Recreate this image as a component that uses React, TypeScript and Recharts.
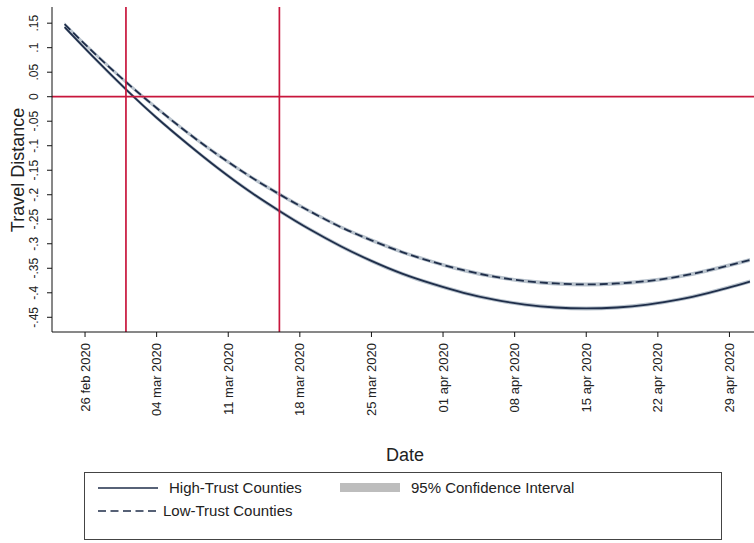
import { ComposedChart, Line, Area, XAxis, YAxis, ReferenceLine } from 'recharts'

// days counted from 26 feb 2020
const days = [-2, 1, 4, 7, 10, 13, 16, 19, 22, 25, 28, 31, 34, 37, 40, 43, 46, 49, 52, 55, 58, 61, 65]
const highTrust = [0.142, 0.077, 0.015, -0.043, -0.096, -0.146, -0.192, -0.233, -0.271, -0.305, -0.335, -0.361, -0.382, -0.400, -0.414, -0.424, -0.430, -0.432, -0.430, -0.424, -0.414, -0.400, -0.377]
const lowTrust = [0.148, 0.087, 0.030, -0.023, -0.073, -0.119, -0.161, -0.199, -0.234, -0.266, -0.293, -0.317, -0.337, -0.354, -0.367, -0.376, -0.381, -0.383, -0.381, -0.376, -0.367, -0.354, -0.333]
const ciHalf = 0.004

const xTicks = [0, 7, 14, 21, 28, 35, 42, 49, 56, 63]
const xTickLabels = ['26 feb 2020', '04 mar 2020', '11 mar 2020', '18 mar 2020', '25 mar 2020', '01 apr 2020', '08 apr 2020', '15 apr 2020', '22 apr 2020', '29 apr 2020']
const yTicks = [0.15, 0.1, 0.05, 0, -0.05, -0.1, -0.15, -0.2, -0.25, -0.3, -0.35, -0.4, -0.45]
const yTickLabels = ['.15', '.1', '.05', '0', '-.05', '-.1', '-.15', '-.2', '-.25', '-.3', '-.35', '-.4', '-.45']
const policyDays = [4, 19] // 01 mar, 16 mar

const FONT = '"Liberation Sans", Arial, Helvetica, sans-serif'
const NAVY = '#1f2e4a'
const RED = '#c8163c'

const data = days.map((d, i) => ({
    day: d,
    high: highTrust[i],
    low: lowTrust[i],
    highCi: [highTrust[i] - ciHalf, highTrust[i] + ciHalf],
    lowCi: [lowTrust[i] - ciHalf, lowTrust[i] + ciHalf],
}))

const XTick = ({ x, y, payload }: any) => (
    <g transform={`translate(${x + 4.5},${y + 4})`}>
        <text transform="rotate(-90)" textAnchor="end" fontSize={13} fontFamily={FONT} fill="#222">
            {xTickLabels[xTicks.indexOf(payload.value)]}
        </text>
    </g>
)

const YTick = ({ x, y, payload }: any) => (
    <g transform={`translate(${x - 7},${y})`}>
        <text transform="rotate(-90)" textAnchor="middle" fontSize={12} fontFamily={FONT} fill="#222">
            {yTickLabels[yTicks.indexOf(payload.value)]}
        </text>
    </g>
)

export default function App() {
    return (
        <div style={{ position: 'absolute', left: 0, top: 0, width: 754, height: 543, background: '#fff', fontFamily: FONT }}>
            <ComposedChart width={754} height={543} data={data} margin={{ top: 7, right: 0, left: 0, bottom: 101 }}>
                <XAxis
                    type="number"
                    dataKey="day"
                    domain={[-3.23, 65.4]}
                    ticks={xTicks}
                    tick={<XTick />}
                    tickSize={5}
                    interval={0}
                    height={110}
                    allowDataOverflow
                    stroke="#111"
                    label={{
                        content: () => (
                            <text x={405} y={461} textAnchor="middle" fontSize={18} fontFamily={FONT} fill="#222">Date</text>
                        ),
                    }}
                />
                <YAxis
                    type="number"
                    domain={[-0.48, 0.183]}
                    ticks={yTicks}
                    tick={<YTick />}
                    tickSize={5}
                    interval={0}
                    width={52}
                    allowDataOverflow
                    stroke="#111"
                    label={{
                        content: () => (
                            <text transform="translate(24,170) rotate(-90)" textAnchor="middle" fontSize={18} fontFamily={FONT} fill="#222">Travel Distance</text>
                        ),
                    }}
                />
                <Area type="monotone" dataKey="highCi" fill="#b9c3cd" fillOpacity={1} stroke="none" isAnimationActive={false} />
                <Area type="monotone" dataKey="lowCi" fill="#b9c3cd" fillOpacity={1} stroke="none" isAnimationActive={false} />
                <Line type="monotone" dataKey="high" stroke={NAVY} strokeWidth={1.8} dot={false} isAnimationActive={false} />
                <Line type="monotone" dataKey="low" stroke={NAVY} strokeWidth={1.8} strokeDasharray="8 4" dot={false} isAnimationActive={false} />
                <ReferenceLine y={0} stroke={RED} strokeWidth={1.7} />
                {policyDays.map(d => (
                    <ReferenceLine key={d} x={d} stroke={RED} strokeWidth={1.7} />
                ))}
            </ComposedChart>
            <div style={{ position: 'absolute', left: 84, top: 472, width: 636, height: 66, border: '1px solid #444', fontSize: 15, color: '#222' }}>
                <svg width={80} height={66} style={{ position: 'absolute', left: 0, top: 0 }}>
                    <line x1={13} y1={15} x2={73} y2={15} stroke={NAVY} strokeWidth={1.6} />
                    <line x1={13} y1={38} x2={73} y2={38} stroke={NAVY} strokeWidth={1.6} strokeDasharray="8 4.5" />
                </svg>
                <div style={{ position: 'absolute', left: 84, top: 6, lineHeight: '18px' }}>High-Trust Counties</div>
                <div style={{ position: 'absolute', left: 78, top: 29, lineHeight: '18px' }}>Low-Trust Counties</div>
                <div style={{ position: 'absolute', left: 255, top: 10, width: 60, height: 9, background: '#bdbdbd' }} />
                <div style={{ position: 'absolute', left: 326, top: 6, lineHeight: '18px' }}>95% Confidence Interval</div>
            </div>
        </div>
    )
}
